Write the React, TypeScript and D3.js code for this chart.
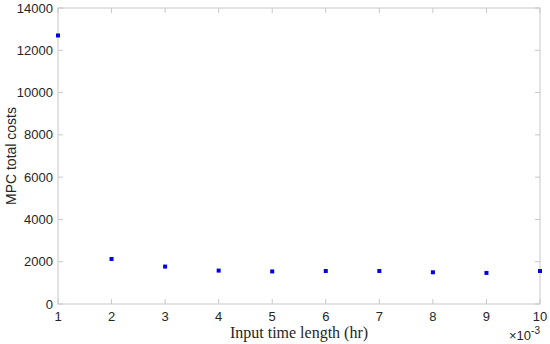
import React from "react";
import * as d3 from "d3";

const xValues = [1, 2, 3, 4, 5, 6, 7, 8, 9, 10];
const costValues = [12700, 2130, 1770, 1580, 1540, 1560, 1560, 1500, 1470, 1560];
const xTicks = [1, 2, 3, 4, 5, 6, 7, 8, 9, 10];
const yTicks = [0, 2000, 4000, 6000, 8000, 10000, 12000, 14000];

export default function App() {
  const W = 550, H = 344;
  const L = 58, R = 540, T = 8, B = 304;
  const x = d3.scaleLinear().domain([1, 10]).range([L, R]);
  const y = d3.scaleLinear().domain([0, 14000]).range([B, T]);
  const axisColor = "#c8c8c8";
  const textColor = "#262626";
  const font = "'Liberation Sans', Arial, sans-serif";
  const tl = 5;
  return (
    <svg width={W} height={H} style={{ position: "absolute", left: 0, top: 0, background: "#fff" }}>
      <rect x={L} y={T} width={R - L} height={B - T} fill="none" stroke={axisColor} strokeWidth={1} />
      {xTicks.map((t) => (
        <g key={"x" + t}>
          <line x1={x(t)} x2={x(t)} y1={B} y2={B - tl} stroke={axisColor} />
          <line x1={x(t)} x2={x(t)} y1={T} y2={T + tl} stroke={axisColor} />
          <text x={x(t)} y={320.5} fontSize={13} fontFamily={font} fill={textColor} textAnchor="middle">{t}</text>
        </g>
      ))}
      {yTicks.map((t) => (
        <g key={"y" + t}>
          <line x1={L} x2={L + tl} y1={y(t)} y2={y(t)} stroke={axisColor} />
          <line x1={R} x2={R - tl} y1={y(t)} y2={y(t)} stroke={axisColor} />
          <text x={L - 5} y={y(t)} fontSize={13} fontFamily={font} fill={textColor} textAnchor="end" dominantBaseline="central">{t}</text>
        </g>
      ))}
      {xValues.map((v, i) => (
        <rect key={"p" + i} x={x(v) - 2} y={y(costValues[i]) - 2} width={4} height={4} fill="#0000ee" />
      ))}
      <text x={299} y={337.5} fontSize={16} fontFamily="'Liberation Serif', 'DejaVu Serif', serif" fill={textColor} textAnchor="middle">Input time length (hr)</text>
      <text transform={`translate(11, ${(T + B) / 2}) rotate(-90)`} fontSize={14} fontFamily={font} fill={textColor} textAnchor="middle" dominantBaseline="central">MPC total costs</text>
      <text x={R} y={340} fontSize={13} fontFamily={font} fill={textColor} textAnchor="end">
        <tspan>×10</tspan><tspan dy={-6} fontSize={10}>-3</tspan>
      </text>
    </svg>
  );
}
